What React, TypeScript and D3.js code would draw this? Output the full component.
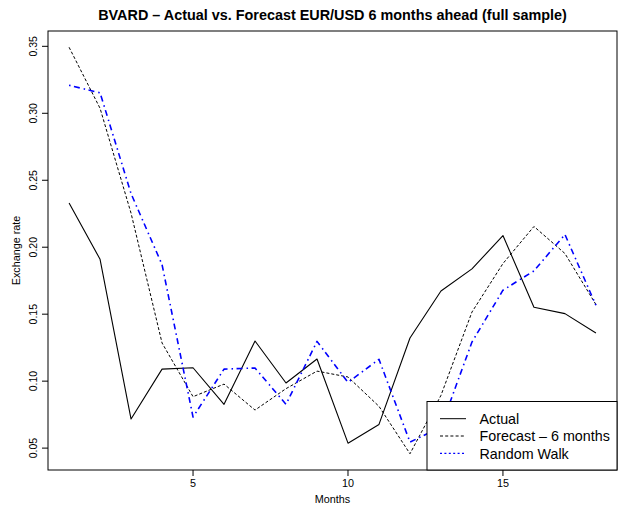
import React from "react";
import * as d3 from "d3";

// Months 1..18 and the three series
const months = d3.range(1, 19);
const actual = [0.233, 0.191, 0.0717, 0.109, 0.110, 0.0827, 0.130, 0.0986, 0.1165, 0.0537, 0.0677, 0.1322, 0.1673, 0.1838, 0.2087, 0.1552, 0.1504, 0.136];
const forecast = [0.3493, 0.3037, 0.2254, 0.1285, 0.0884, 0.0978, 0.0784, 0.0944, 0.1075, 0.1031, 0.0812, 0.0458, 0.0894, 0.1516, 0.1878, 0.2155, 0.1953, 0.1572];
const randomWalk = [0.3209, 0.3153, 0.240, 0.187, 0.0732, 0.109, 0.1098, 0.0827, 0.1297, 0.0991, 0.1163, 0.0545, 0.0657, 0.1292, 0.1679, 0.1823, 0.2095, 0.1567];

const xTicks = [5, 10, 15];
const yTicks = [0.05, 0.1, 0.15, 0.2, 0.25, 0.3, 0.35];
const legendLabels = ["Actual", "Forecast \u2013 6 months", "Random Walk"];

const W = 624;
const H = 508;
const plot = { left: 48, right: 617, top: 31, bottom: 470 };
const font = "'Liberation Sans', Arial, Helvetica, sans-serif";

// R-style 4% padding of the data range
function padded(ext: [number, number]): [number, number] {
  const r = ext[1] - ext[0];
  return [ext[0] - 0.04 * r, ext[1] + 0.04 * r];
}

export default function App() {
  const allY = [...actual, ...forecast, ...randomWalk];
  const x = d3.scaleLinear().domain(padded([1, 18])).range([plot.left, plot.right]);
  const y = d3
    .scaleLinear()
    .domain(padded(d3.extent(allY) as [number, number]))
    .range([plot.bottom, plot.top]);

  const line = d3
    .line<number>()
    .x((_, i) => x(months[i]))
    .y((d) => y(d));

  const series = [
    { data: actual, stroke: "#000", width: 1.1, dash: undefined as string | undefined, legendDash: undefined as string | undefined },
    { data: forecast, stroke: "#000", width: 1, dash: "3,2", legendDash: "3,2.2" },
    { data: randomWalk, stroke: "#0000ff", width: 1.6, dash: "1.5,3.5,6,4", legendDash: "2,2.4" },
  ];

  const legend = { left: 427, top: 401.5, right: plot.right, bottom: plot.bottom };
  const rowY = [418.7, 436, 453.3];

  return (
    <svg
      width={W}
      height={H}
      style={{ position: "absolute", left: 0, top: 0, background: "#fff" }}
      fontFamily={font}
    >
      <rect x={0} y={0} width={W} height={H} fill="#fff" />

      {/* series */}
      {series.map((s, i) => (
        <path
          key={i}
          d={line(s.data) || ""}
          fill="none"
          stroke={s.stroke}
          strokeWidth={s.width}
          strokeDasharray={s.dash}
          strokeLinejoin="round"
        />
      ))}

      {/* plot frame */}
      <rect
        x={plot.left}
        y={plot.top}
        width={plot.right - plot.left}
        height={plot.bottom - plot.top}
        fill="none"
        stroke="#000"
        strokeWidth={1}
      />

      {/* x axis */}
      {xTicks.map((t) => (
        <g key={t}>
          <line x1={x(t)} x2={x(t)} y1={plot.bottom} y2={plot.bottom + 6} stroke="#000" />
          <text x={x(t)} y={486.5} fontSize={10.8} textAnchor="middle" fill="#000">
            {t}
          </text>
        </g>
      ))}
      <text x={(plot.left + plot.right) / 2} y={503} fontSize={10.8} textAnchor="middle" fill="#000">
        Months
      </text>

      {/* y axis */}
      {yTicks.map((t) => (
        <g key={t}>
          <line x1={plot.left - 6} x2={plot.left} y1={y(t)} y2={y(t)} stroke="#000" />
          <text
            transform={`translate(36.5,${y(t)}) rotate(-90)`}
            fontSize={10.5}
            textAnchor="middle"
            fill="#000"
          >
            {d3.format(".2f")(t)}
          </text>
        </g>
      ))}
      <text
        transform={`translate(20,${(plot.top + plot.bottom) / 2}) rotate(-90)`}
        fontSize={10.8}
        textAnchor="middle"
        fill="#000"
      >
        Exchange rate
      </text>

      {/* title */}
      <text
        x={(plot.left + plot.right) / 2}
        y={20}
        fontSize={14.4}
        fontWeight="bold"
        textAnchor="middle"
        fill="#000"
      >
        BVARD {"\u2013"} Actual vs. Forecast EUR/USD 6 months ahead (full sample)
      </text>

      {/* legend */}
      <rect
        x={legend.left}
        y={legend.top}
        width={legend.right - legend.left}
        height={legend.bottom - legend.top}
        fill="#fff"
        stroke="#000"
      />
      {series.map((s, i) => (
        <g key={i}>
          <line
            x1={440}
            x2={466}
            y1={rowY[i]}
            y2={rowY[i]}
            stroke={s.stroke}
            strokeWidth={i === 2 ? 1.2 : 1}
            strokeDasharray={s.legendDash}
          />
          <text x={479.5} y={rowY[i] + 5.2} fontSize={14.3} fill="#000">
            {legendLabels[i]}
          </text>
        </g>
      ))}
    </svg>
  );
}
